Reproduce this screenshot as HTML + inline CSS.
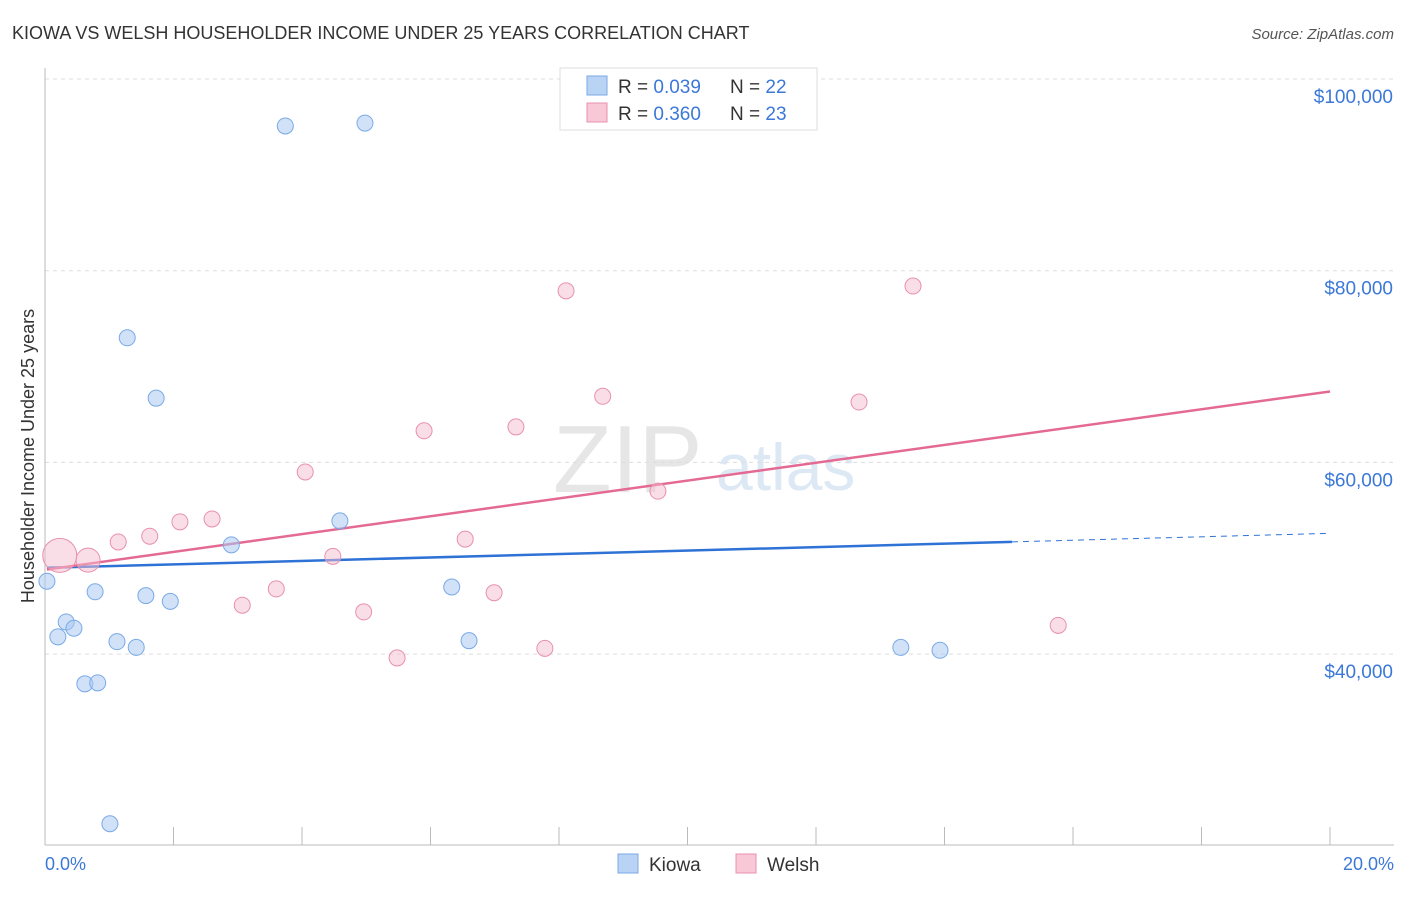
<!DOCTYPE html>
<html><head><meta charset="utf-8"><style>
body{margin:0;background:#fff;font-family:"Liberation Sans",sans-serif;}
svg text{font-family:"Liberation Sans",sans-serif;}
</style></head><body>
<svg id="chart" width="1406" height="892">
<text x="12" y="39" font-size="18" fill="#333">KIOWA VS WELSH HOUSEHOLDER INCOME UNDER 25 YEARS CORRELATION CHART</text>
<text x="1394" y="39" font-size="15" fill="#555" text-anchor="end" font-style="italic">Source: ZipAtlas.com</text>
<text x="553" y="492" font-size="96" fill="#e6e6e6" font-family="Liberation Serif">ZIP</text>
<text x="716" y="490" font-size="66" fill="#dde8f5">atlas</text>
<g id="grid"></g><g id="axes"></g><g id="lines"></g><g id="points"></g>
<text transform="translate(34,456) rotate(-90)" font-size="18" fill="#333" text-anchor="middle">Householder Income Under 25 years</text>
<text x="45" y="870" font-size="18" fill="#3b78d8">0.0%</text>
<text x="1394" y="870" font-size="18" fill="#3b78d8" text-anchor="end">20.0%</text>
<g>
<rect x="560" y="68" width="257" height="62" fill="#fff" stroke="#ddd"/>
<rect x="587" y="76" width="20" height="19" fill="#b9d3f5" stroke="#7aaae6"/>
<text x="618" y="93" font-size="19" fill="#333">R = <tspan fill="#3b78d8">0.039</tspan></text>
<text x="730" y="93" font-size="19" fill="#333">N = <tspan fill="#3b78d8">22</tspan></text>
<rect x="587" y="103" width="20" height="19" fill="#f9c8d6" stroke="#e890ac"/>
<text x="618" y="120" font-size="19" fill="#333">R = <tspan fill="#3b78d8">0.360</tspan></text>
<text x="730" y="120" font-size="19" fill="#333">N = <tspan fill="#3b78d8">23</tspan></text>
</g>
<g>
<rect x="618" y="854" width="20" height="19" fill="#b9d3f5" stroke="#7aaae6"/>
<text x="649" y="871" font-size="19" fill="#333">Kiowa</text>
<rect x="736" y="854" width="20" height="19" fill="#f9c8d6" stroke="#e890ac"/>
<text x="767" y="871" font-size="19" fill="#333">Welsh</text>
</g>
</svg>
<script>
const kiowaX=[0.03,0.2,0.33,0.45,0.62,0.82,0.78,1.01,1.12,1.28,1.42,1.57,1.73,1.95,2.9,3.74,4.59,4.98,6.33,6.6,13.32,13.93];
const kiowaY=[47600,41800,43350,42700,36900,37000,46500,22300,41300,73000,40700,46100,66700,45500,51400,95100,53900,95400,47000,41400,40700,40400];
const welshX=[0.23,0.67,1.14,1.63,2.1,2.6,3.07,3.6,4.05,4.48,4.96,5.48,5.9,6.54,6.99,7.33,7.78,8.11,8.68,9.54,12.67,13.51,15.77];
const welshY=[50300,49800,51700,52300,53800,54100,45100,46800,59000,50200,44400,39600,63300,52000,46400,63700,40600,77900,66900,57000,66300,78400,43000];
const kiowaTrend=[49000,52600];
const welshTrend=[48800,67400];
const yTicks=[100000,80000,60000,40000];
const yTickLabels=["$100,000","$80,000","$60,000","$40,000"];
const xTicks=[0,2,4,6,8,10,12,14,16,18,20];
const NS="http://www.w3.org/2000/svg";
const sx=v=>45+v*64.25;
const sy=v=>79+(100000-v)/20000*191.7;
function mk(tag,attrs,parent){const e=document.createElementNS(NS,tag);for(const k in attrs)e.setAttribute(k,attrs[k]);document.getElementById(parent).appendChild(e);return e;}
yTicks.forEach((t,i)=>{
 const l=mk('line',{x1:45,x2:1394,y1:sy(t),y2:sy(t),stroke:'#ddd','stroke-dasharray':'4,4'},'grid');
 
 
 const tx=mk('text',{x:1393,y:sy(t)+24,'font-size':19,fill:'#3b78d8','text-anchor':'end'},'grid');
 tx.textContent=yTickLabels[i];
 
 
});
const ax=mk('line',{x1:45,x2:1394,y1:845,y2:845,stroke:'#bbb'},'axes');


const ay=mk('line',{x1:45,x2:45,y1:68,y2:845,stroke:'#bbb'},'axes');


xTicks.forEach(t=>{
 const l=mk('line',{x1:sx(t),x2:sx(t),y1:827,y2:845,stroke:'#bbb'},'axes');
 
 
});
function pts(xs,ys,fill,stroke,name){
 xs.forEach((x,i)=>{
  const r=(name==='welsh-point'&&i===0)?17:(name==='welsh-point'&&i===1)?12:8;
  const c=mk('circle',{cx:sx(x),cy:sy(ys[i]),r:r,fill:fill,stroke:stroke,'stroke-width':1},'points');
  
  
 });
}
pts(kiowaX,kiowaY,'rgba(170,200,242,0.55)','#7aaae6','kiowa-point');
pts(welshX,welshY,'rgba(246,190,208,0.5)','#e890ac','welsh-point');
const ky=x=>kiowaTrend[0]+(kiowaTrend[1]-kiowaTrend[0])*x/20;
const wy=x=>welshTrend[0]+(welshTrend[1]-welshTrend[0])*x/20;
const kl=mk('line',{x1:sx(0.03),y1:sy(ky(0.03)),x2:sx(15.05),y2:sy(ky(15.05)),stroke:'#2f72d6','stroke-width':2.5},'lines');


const kd=mk('line',{x1:sx(15.05),y1:sy(ky(15.05)),x2:sx(20),y2:sy(ky(20)),stroke:'#2f72d6','stroke-width':1,'stroke-dasharray':'6,5'},'lines');


const wl=mk('line',{x1:sx(0.03),y1:sy(wy(0.03)),x2:sx(20),y2:sy(wy(20)),stroke:'#e46a93','stroke-width':2.5},'lines');


</script>
</body></html>
